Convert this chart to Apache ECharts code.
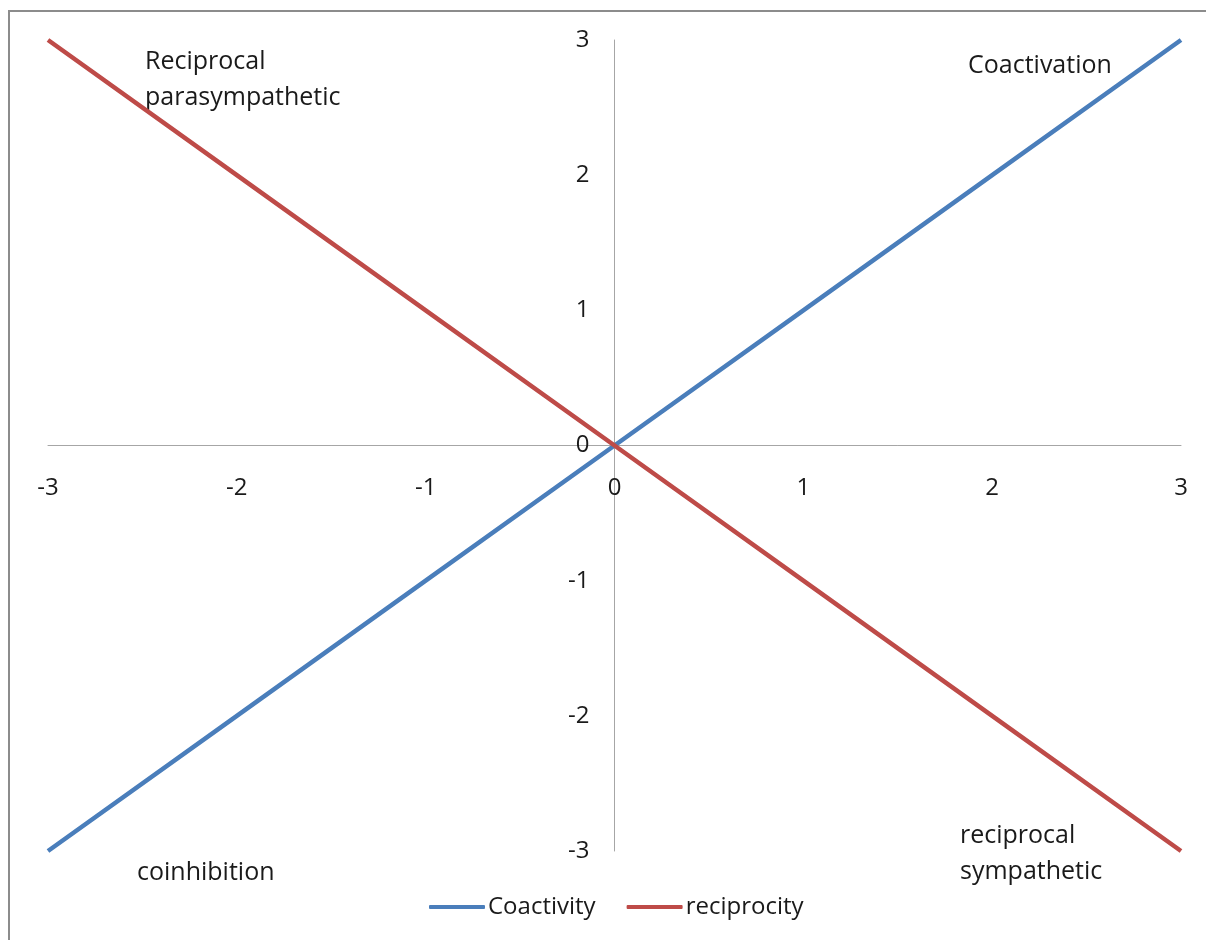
<!DOCTYPE html>
<html>
<head>
<meta charset="utf-8">
<script src="https://cdn.jsdelivr.net/npm/echarts@6/dist/echarts.min.js"></script>
<style>
  html, body { margin: 0; padding: 0; background: #fff; }
  #chart { width: 1206px; height: 940px; }
</style>
</head>
<body>
<div id="chart"></div>
<script>
// Data
const xValues = [-3, -2, -1, 0, 1, 2, 3];
const coactivity = [-3, -2, -1, 0, 1, 2, 3];
const reciprocity = [3, 2, 1, 0, -1, -2, -3];
const seriesNames = ['Coactivity', 'reciprocity'];
const quadrantLabels = ['Reciprocal\nparasympathetic', 'Coactivation', 'coinhibition', 'reciprocal\nsympathetic'];

const FONT = '"Open Sans", "Noto Sans", sans-serif';
const pairs = ys => xValues.map((x, i) => [x, ys[i]]);

// Plot area
const GRID = { left: 48, right: 25, top: 40, bottom: 89 };
const W = 1206, H = 940;
const plotW = W - GRID.left - GRID.right;
const plotH = H - GRID.top - GRID.bottom;

const chart = echarts.init(document.getElementById('chart'), null, { renderer: 'canvas' });

const annotation = (text, left, top) => ({
  type: 'text', left, top,
  style: { text, font: '25px ' + FONT, fill: '#1a1a1a', lineHeight: 36 }
});

// Axes cross at the origin, so each is shifted into the middle of the plot
chart.setOption({
  animation: false,
  backgroundColor: '#fff',
  grid: Object.assign({ containLabel: false }, GRID),
  xAxis: {
    type: 'value', min: -3, max: 3, interval: 1,
    position: 'bottom', offset: -plotH / 2,
    axisLine: { onZero: false, lineStyle: { color: '#a6a6a6', width: 1 } },
    axisTick: { show: false },
    splitLine: { show: false },
    axisLabel: { margin: 31, fontSize: 24, color: '#1a1a1a', fontFamily: FONT, showMinLabel: true, showMaxLabel: true }
  },
  yAxis: {
    type: 'value', min: -3, max: 3, interval: 1,
    position: 'left', offset: -plotW / 2,
    axisLine: { show: true, onZero: false, lineStyle: { color: '#a6a6a6', width: 1 } },
    axisTick: { show: false },
    splitLine: { show: false },
    axisLabel: { margin: 25, fontSize: 24, color: '#1a1a1a', fontFamily: FONT, showMinLabel: true, showMaxLabel: true }
  },
  legend: {
    bottom: 16, left: 424,
    data: seriesNames,
    icon: 'roundRect', itemWidth: 56, itemHeight: 4, itemGap: 31,
    textStyle: { fontSize: 24, color: '#1a1a1a', fontFamily: FONT, padding: [0, 0, 0, -2] }
  },
  series: [
    {
      name: seriesNames[0], type: 'line', data: pairs(coactivity),
      showSymbol: false, symbol: 'none',
      lineStyle: { color: '#4a7ebb', width: 4.5, cap: 'butt' },
      itemStyle: { color: '#4a7ebb' }
    },
    {
      name: seriesNames[1], type: 'line', data: pairs(reciprocity),
      showSymbol: false, symbol: 'none',
      lineStyle: { color: '#be4b48', width: 4.5, cap: 'butt' },
      itemStyle: { color: '#be4b48' }
    }
  ],
  graphic: [
    { type: 'rect', shape: { x: 9, y: 11, width: 1400, height: 1200 },
      style: { fill: 'none', stroke: '#8c8c8c', lineWidth: 2 }, silent: true, z: 100 },
    annotation(quadrantLabels[0], 145, 44),
    annotation(quadrantLabels[1], 968, 48),
    annotation(quadrantLabels[2], 137, 855),
    annotation(quadrantLabels[3], 960, 818)
  ]
});
</script>
</body>
</html>
